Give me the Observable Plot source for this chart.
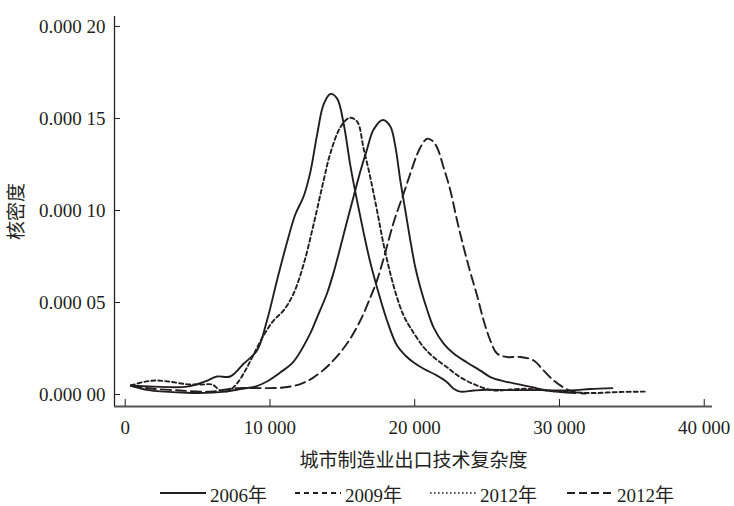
<!DOCTYPE html>
<html>
<head>
<meta charset="utf-8">
<script src="https://cdn.jsdelivr.net/npm/d3@7"></script>
<script src="https://cdn.jsdelivr.net/npm/@observablehq/plot@0.6"></script>
<style>
  body { margin: 0; background: #fff; width: 734px; height: 506px; overflow: hidden; }
  #legend { position: relative; height: 28px; font-family: "Liberation Serif", "Noto Sans CJK SC", serif; font-size: 19px; color: #231f20; }
  .item { position: absolute; top: 1px; height: 28px; display: flex; align-items: center; white-space: nowrap; }
  .item span { margin-left: 4px; }
</style>
</head>
<body>
<div id="chart"></div>
<div id="legend"></div>
<script>
// ---- data (x: 城市制造业出口技术复杂度, y: 核密度 in units of 1e-6) ----
const yUnit = 1e-6;

const x2006 = [394,1956,4264,5529,6337,7257,8176,9102,9793,10484,11175,11749,12322,12785,13248,13705,14168,14631,15087,15550,16013,16469,16932,17395,18086,18777,19351,19924,20615,21542,22233,22689,23152,24071,24997,26607,28681,30754,32136,33657];
const y2006 = [4.9,4.3,4.3,7.1,9.8,9.8,16.7,23.9,40.2,62.0,82.6,97.8,107.6,120.7,140.8,157.6,163.3,160.9,147.3,124.5,105.4,88.0,71.7,58.2,40.2,26.6,21.2,17.4,14.0,10.3,6.7,3.1,1.6,2.2,2.6,2.4,2.4,2.2,3.0,3.5];

const x2009 = [394,1265,2073,2972,4147,5183,6013,6565,7118,7720,8293,8867,9558,10249,10940,11631,12322,13013,13705,14168,14859,15481,16013,16469,16932,17395,17851,18314,18777,19233,19696,20615,21307,22233,23152,24306,25453,26607,27761,29144,30408,32136,34209,36075];
const y2009 = [4.9,6.8,7.6,7.1,5.7,5.4,5.4,2.2,1.9,6.0,13.0,21.7,32.1,40.2,45.7,54.9,70.7,92.4,116.3,131.0,145.1,150.3,148.4,133.7,117.9,100.0,81.5,65.8,52.7,42.9,36.4,25.7,20.3,14.8,9.4,4.9,2.2,2.7,3.1,2.2,1.6,0.8,1.4,1.6];

const x2012a = [394,1590,2764,3939,5045,6911,7948,8984,9793,10712,11631,12785,13248,13940,14396,14859,15322,15778,16241,16704,17160,17796,18314,18660,19005,19351,19696,20042,20387,20850,21307,21997,22689,23615,24534,25225,26124,27298,28197,29165,30063,31100];
const y2012a = [4.9,2.4,1.6,1.1,0.8,1.6,3.0,4.3,7.1,12.0,17.9,33.2,41.8,54.9,66.3,79.9,94.0,107.6,121.2,133.2,144.0,149.2,145.7,134.8,116.3,100.0,83.7,69.0,58.2,46.2,36.4,27.7,22.3,17.4,13.0,9.5,7.3,5.4,3.8,2.2,1.4,0.8];

const x2012b = [415,1728,3801,5874,7720,9330,10919,12094,12993,14168,15322,16241,16932,17395,17851,18542,19233,19696,20159,20505,20850,21196,21542,21997,22461,22924,23380,23844,24306,24762,25225,25688,26379,27298,28218,28909,29600,30291,30982,31790];
const y2012b = [4.6,3.3,2.2,1.6,3.5,3.5,3.8,5.7,9.2,16.8,27.7,40.2,52.7,62.0,73.9,93.5,109.2,120.1,130.4,135.9,139.0,138.0,134.2,123.4,110.9,94.6,79.9,66.3,53.8,40.2,29.3,22.3,20.4,20.4,18.5,13.0,7.6,3.8,1.4,0.5];

const legendLabels = ["2006年", "2009年", "2012年", "2012年"];
const xTicks = [0, 10000, 20000, 30000, 40000];
const yTicks = [0, 0.00005, 0.0001, 0.00015, 0.0002];
const xDomain = [-740, 40570];
const yDomain = [-0.0000065, 0.0002054];
const xTitle = "城市制造业出口技术复杂度";
const yTitle = "核密度";

// ---- styles ----
const ink = "#231f20";
const font = '"Liberation Serif", "Noto Sans CJK SC", serif';
const styles = [
  {dash: null, legendDash: null},
  {dash: "4,3", legendDash: "5,4"},
  {dash: null, legendDash: "1.6,2.4"},
  {dash: "10,5", legendDash: "8,4"}
];
const seriesXY = [[x2006, y2006], [x2009, y2009], [x2012a, y2012a], [x2012b, y2012b]];
const rows = seriesXY.map(([xs, ys]) => xs.map((x, i) => ({x, y: ys[i] * yUnit})));

const fmtY = d => { const s = d.toFixed(5); return s.slice(0, 5) + " " + s.slice(5); };
const fmtX = d => d3.format(",")(d).replace(/,/g, " ");

const chart = Plot.plot({
  width: 734,
  height: 478,
  marginLeft: 114,
  marginRight: 22,
  marginTop: 16,
  marginBottom: 72,
  style: {fontFamily: font, fontSize: "19px", color: ink, background: "#fff"},
  x: {domain: xDomain},
  y: {domain: yDomain},
  marks: [
    ...rows.map((data, i) => Plot.line(data, {
      x: "x", y: "y", curve: "catmull-rom",
      stroke: ink, strokeWidth: 1.9,
      strokeDasharray: styles[i].dash ?? undefined
    })),
    Plot.ruleY([yDomain[0]], {stroke: "#555", strokeWidth: 2}),
    Plot.ruleX([xDomain[0]], {stroke: "#222", strokeWidth: 1.3}),
    Plot.axisY({ticks: yTicks, tickSize: -6, tickPadding: 15, tickFormat: fmtY, label: null, fontSize: 19}),
    Plot.axisX({ticks: xTicks, tickSize: -7, tickPadding: 21, tickFormat: fmtX, label: null, fontSize: 19}),
    Plot.text([yTitle], {text: d => d, frameAnchor: "left", textAnchor: "middle", lineAnchor: "middle", rotate: -90, dx: -98, fontSize: 19, fill: ink}),
    Plot.text([xTitle], {text: d => d, frameAnchor: "bottom", textAnchor: "middle", lineAnchor: "middle", dy: 54, fontSize: 19, fill: ink})
  ]
});
document.getElementById("chart").appendChild(chart);

// ---- legend ----
const legend = document.getElementById("legend");
const lefts = [160, 295, 430, 567];
legendLabels.forEach((lab, i) => {
  const item = document.createElement("div");
  item.className = "item";
  item.style.left = lefts[i] + "px";
  const svg = d3.create("svg").attr("width", 46).attr("height", 10);
  svg.append("line").attr("x1", 0).attr("x2", 46).attr("y1", 5).attr("y2", 5)
    .attr("stroke", ink).attr("stroke-width", i === 2 ? 1.6 : 2)
    .attr("stroke-dasharray", styles[i].legendDash);
  item.appendChild(svg.node());
  const span = document.createElement("span");
  span.textContent = lab;
  item.appendChild(span);
  legend.appendChild(item);
});
</script>
</body>
</html>
